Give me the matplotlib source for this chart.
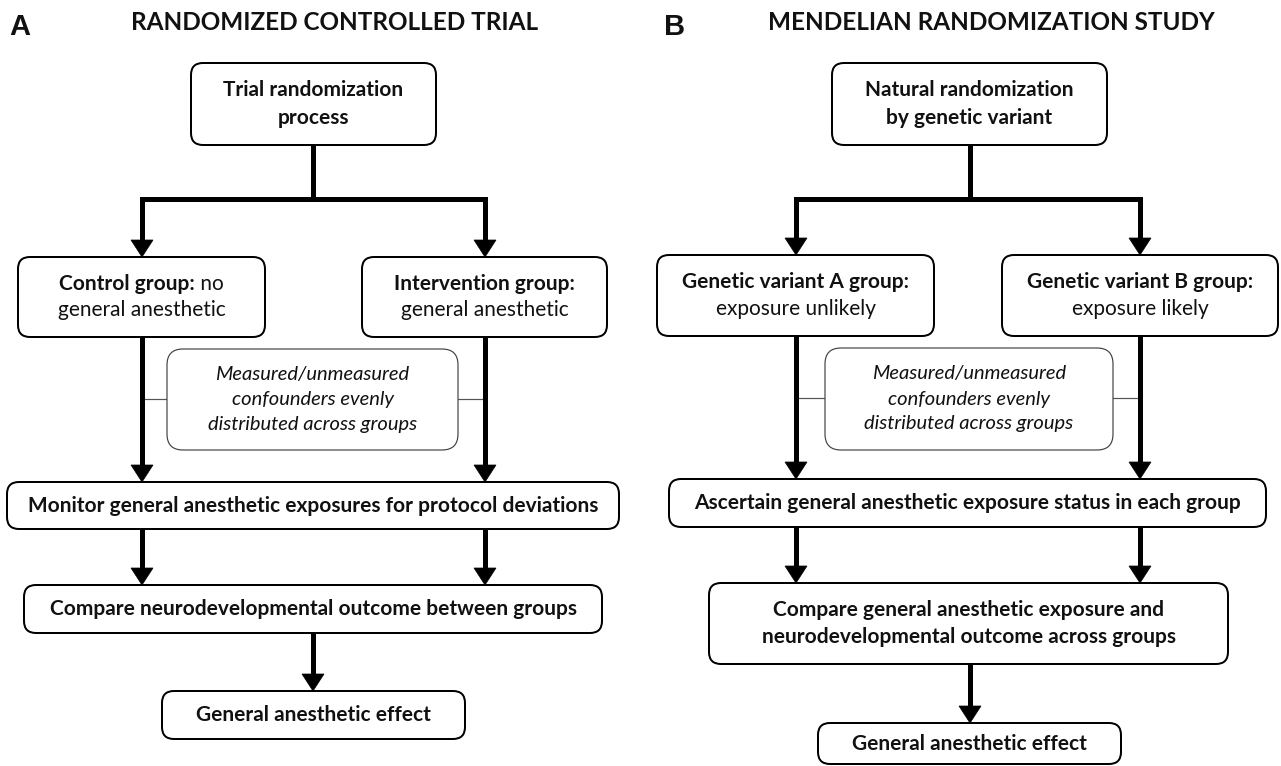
import matplotlib
matplotlib.use("Agg")
import matplotlib.pyplot as plt
from matplotlib.patches import FancyBboxPatch, Polygon

plt.rcParams['font.family'] = ['Lato', 'DejaVu Sans']

# texts of the two flowcharts
panel_labels = ["A", "B"]
panel_titles = ["RANDOMIZED CONTROLLED TRIAL", "MENDELIAN RANDOMIZATION STUDY"]
top_text = [["Trial randomization", "process"],
            ["Natural randomization", "by genetic variant"]]
left_group = [[[("Control group:", "bold"), (" no", "normal")],
               [("general anesthetic", "normal")]],
              [[("Genetic variant A group:", "bold")],
               [("exposure unlikely", "normal")]]]
right_group = [[[("Intervention group:", "bold")],
                [("general anesthetic", "normal")]],
               [[("Genetic variant B group:", "bold")],
                [("exposure likely", "normal")]]]
confounder_text = ["Measured/unmeasured", "confounders evenly", "distributed across groups"]
middle_text = [["Monitor general anesthetic exposures for protocol deviations"],
               ["Ascertain general anesthetic exposure status in each group"]]
compare_text = [["Compare neurodevelopmental outcome between groups"],
                ["Compare general anesthetic exposure and",
                 "neurodevelopmental outcome across groups"]]
effect_text = ["General anesthetic effect", "General anesthetic effect"]

# layout in pixels (x0, x1, y0, y1)
layout = [
    dict(label=(20, 27), title=(335, 22), cx=313,
         top=(191, 436, 63, 145), branch_y=199, arms=(142, 485),
         left=(18, 265, 257, 337), right=(362, 607, 257, 337),
         conf=(167, 458, 349, 450), mid=(7, 619, 482, 529),
         comp=(24, 602, 585, 633), eff=(162, 465, 691, 739)),
    dict(label=(675, 27), title=(991, 22), cx=970,
         top=(832, 1107, 63, 145), branch_y=199, arms=(796, 1140),
         left=(657, 934, 255, 336), right=(1002, 1278, 255, 336),
         conf=(825, 1113, 348, 450), mid=(669, 1266, 479, 527),
         comp=(709, 1228, 583, 664), eff=(818, 1121, 723, 764)),
]

W, H = 1281, 766
fig = plt.figure(figsize=(W / 100, H / 100), dpi=100)
ax = fig.add_axes([0, 0, 1, 1])
ax.set_xlim(0, W)
ax.set_ylim(H, 0)
ax.axis("off")
renderer = fig.canvas.get_renderer()

FS = 15
FS_IT = 14.5
TXT = "#111111"
PX = 0.72  # points per pixel


def box(b, lw=2, color="black", r=12):
    x0, x1, y0, y1 = b
    ax.add_patch(FancyBboxPatch((x0, y0), x1 - x0, y1 - y0,
                                boxstyle=f"round,pad=0,rounding_size={r}",
                                fc="white", ec=color, lw=lw * PX, zorder=3))


def line_parts(cx, y, parts, style="normal", size=FS):
    texts = [ax.text(0, y, s, fontsize=size, fontweight=w, style=style, color=TXT,
                     ha="left", va="center", zorder=4) for s, w in parts]
    widths = [t.get_window_extent(renderer).width for t in texts]
    x = cx - sum(widths) / 2
    for t, w in zip(texts, widths):
        t.set_x(x)
        x += w


def box_lines(b, lines, gap=27, style="normal", size=FS):
    x0, x1, y0, y1 = b
    cx, cy = (x0 + x1) / 2, (y0 + y1) / 2
    n = len(lines)
    for i, parts in enumerate(lines):
        if isinstance(parts, str):
            parts = [(parts, "bold")]
        line_parts(cx, cy + (i - (n - 1) / 2) * gap, parts, style, size)


def arrow(x, y0, y1, lw=5, hw=11, hl=17):
    ax.plot([x, x], [y0, y1 - hl + 1], color="black", lw=lw * PX,
            solid_capstyle="butt", zorder=2)
    ax.add_patch(Polygon([[x - hw, y1 - hl], [x + hw, y1 - hl], [x, y1]],
                         closed=True, fc="black", ec="black", lw=0.5, zorder=2))


for k, L in enumerate(layout):
    ax.text(*L["label"], panel_labels[k], fontsize=21, fontweight="bold",
            family="Liberation Sans", ha="center", va="center", color=TXT)
    ax.text(*L["title"], panel_titles[k], fontsize=17.5, fontweight="bold",
            ha="center", va="center", color=TXT)

    # top box and branching arrows
    box(L["top"])
    box_lines(L["top"], top_text[k], gap=28)
    cx, by = L["cx"], L["branch_y"]
    xl, xr = L["arms"]
    ax.plot([cx, cx], [L["top"][3], by], color="black", lw=5 * PX,
            solid_capstyle="projecting", zorder=2)
    ax.plot([xl, xr], [by, by], color="black", lw=5 * PX,
            solid_capstyle="projecting", zorder=2)
    arrow(xl, by, L["left"][2])
    arrow(xr, by, L["right"][2])

    # group boxes
    box(L["left"])
    box_lines(L["left"], left_group[k])
    box(L["right"])
    box_lines(L["right"], right_group[k])

    # arrows down to the middle box, confounder note between them
    arrow(xl, L["left"][3], L["mid"][2])
    arrow(xr, L["right"][3], L["mid"][2])
    cf = L["conf"]
    cy_conf = (cf[2] + cf[3]) / 2
    ax.plot([xl, cf[0]], [cy_conf - 1, cy_conf - 1], color="#555555", lw=1.2 * PX, zorder=1)
    ax.plot([cf[1], xr], [cy_conf - 1, cy_conf - 1], color="#555555", lw=1.2 * PX, zorder=1)
    box(cf, lw=1.2, color="#444444", r=16)
    box_lines(cf, [[(s, "normal")] for s in confounder_text], gap=25,
              style="italic", size=FS_IT)

    box(L["mid"])
    box_lines(L["mid"], middle_text[k])
    arrow(xl, L["mid"][3], L["comp"][2])
    arrow(xr, L["mid"][3], L["comp"][2])

    box(L["comp"])
    box_lines(L["comp"], compare_text[k])
    arrow(cx, L["comp"][3], L["eff"][2])

    box(L["eff"])
    box_lines(L["eff"], [effect_text[k]])

fig.savefig("out.png", dpi=100, facecolor="white")
